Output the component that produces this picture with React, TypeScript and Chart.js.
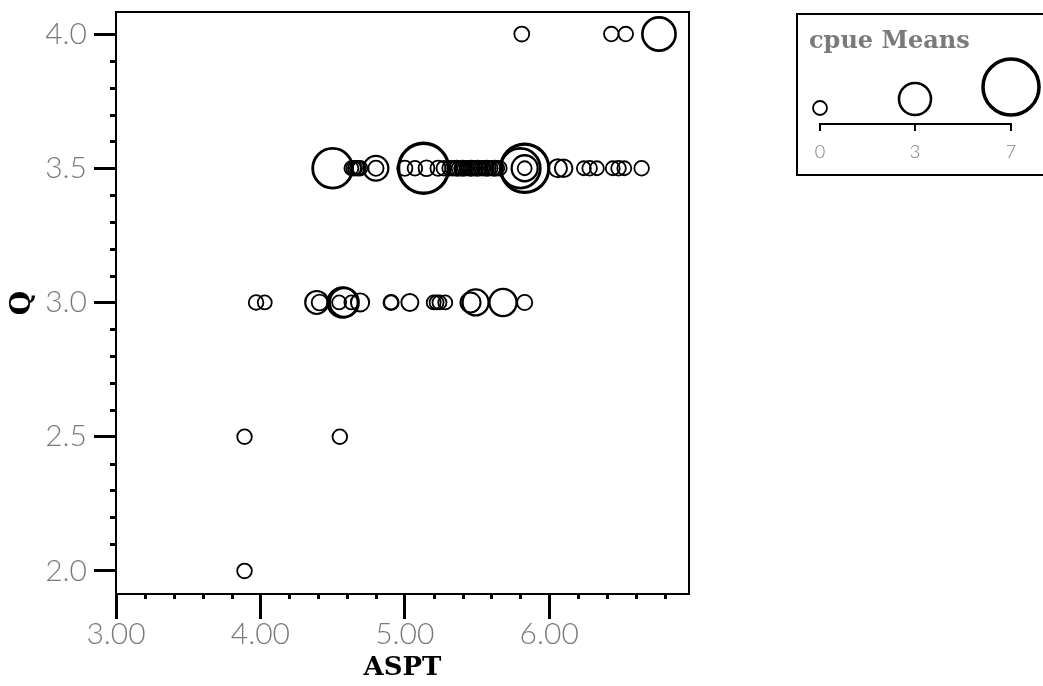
import React, { useEffect, useRef } from 'react';
import { Chart, registerables } from 'chart.js';

Chart.register(...registerables);

// ---- data (ASPT on x, Q on y, bubble size = cpue mean) ----
const qLevels = [4.0, 3.5, 3.0, 2.5, 2.0];

const asptQ40 = [5.81, 6.43, 6.53, 6.76];
const cpueQ40 = [0.15, 0.1, 0.1, 3.2];

const asptQ35 = [
  4.5, 4.63, 4.645, 4.655, 4.67, 4.68, 4.69, 4.8, 4.8, 5.13, 5.0, 5.07, 5.15, 5.23, 5.27, 5.31, 5.33,
  5.345, 5.36, 5.375, 5.39, 5.4, 5.415, 5.43, 5.445, 5.46, 5.475, 5.49, 5.505, 5.52, 5.535, 5.55, 5.565,
  5.58, 5.595, 5.61, 5.625, 5.64, 5.655, 5.8, 5.83, 5.83, 5.83, 6.06, 6.1, 6.24, 6.28, 6.33, 6.44, 6.48,
  6.52, 6.64,
];
const cpueQ35 = [
  4.3, 0, 0.1, 0, 0.1, 0, 0.1, 1.8, 0.2, 6.0, 0.2, 0.1, 0.3, 0.2, 0.1, 0.1, 0.1, 0, 0.2, 0.1, 0, 0.2,
  0.1, 0, 0.1, 0.2, 0, 0.1, 0.2, 0, 0.1, 0, 0.2, 0.1, 0, 0.1, 0.2, 0, 0.1, 4.3, 5.7, 2.0, 0, 0.7, 0.6,
  0, 0.1, 0, 0, 0.1, 0, 0.1,
];

const asptQ30 = [
  3.97, 4.03, 4.39, 4.41, 4.57, 4.58, 4.545, 4.63, 4.69, 4.905, 4.905, 5.035, 5.2, 5.22, 5.24, 5.28,
  5.455, 5.49, 5.68, 5.83,
];
const cpueQ30 = [
  0.1, 0, 1.5, 0.3, 2.7, 2.5, 0, 0, 0.7, 0.2, 0, 0.5, 0, 0, 0, 0, 1.0, 2.0, 2.2, 0.2,
];

const asptQ25 = [3.89, 4.55];
const cpueQ25 = [0.1, 0.1];

const asptQ20 = [3.89];
const cpueQ20 = [0.1];

const asptByLevel = [asptQ40, asptQ35, asptQ30, asptQ25, asptQ20];
const cpueByLevel = [cpueQ40, cpueQ35, cpueQ30, cpueQ25, cpueQ20];

const xMajorTicks = [3, 4, 5, 6];
const yMajorTicks = [2.0, 2.5, 3.0, 3.5, 4.0];
const legendValues = [0, 3, 7];

const radiusFor = (v: number) => 7 + 3 * v;
const widthFor = (v: number) => 1.8 + 0.25 * v;

const GRAY = '#7a7a7a';
const lightFamily = 'Lato, "Open Sans", "Liberation Sans", sans-serif';
const tickFont = { family: lightFamily, size: 30, weight: 300 as any, lineHeight: 1 };
const titleFontFamily = '"DejaVu Serif", "Liberation Serif", serif';

const decorPlugin = {
  id: 'decor',
  beforeDatasetsDraw(chart: any) {
    const { ctx, chartArea } = chart;
    const xs = chart.scales.x;
    const ys = chart.scales.y;
    ctx.save();
    ctx.strokeStyle = '#000';
    ctx.lineWidth = 2;
    ctx.beginPath();
    ctx.moveTo(chartArea.left, chartArea.top);
    ctx.lineTo(chartArea.right, chartArea.top);
    ctx.lineTo(chartArea.right, chartArea.bottom);
    ctx.stroke();
    ctx.fillStyle = '#000';
    // minor ticks y every 0.1
    for (let k = 20; k <= 40; k++) {
      if (k % 5 === 0) continue;
      const y = ys.getPixelForValue(k / 10);
      ctx.fillRect(chartArea.left - 6, Math.round(y) - 1, 5, 3);
    }
    // minor ticks x every 0.2
    for (let k = 15; k <= 34; k++) {
      if (k % 5 === 0) continue;
      const x = xs.getPixelForValue(k / 5);
      if (x > chartArea.right) continue;
      ctx.fillRect(Math.round(x) - 1, chartArea.bottom + 1, 3, 4);
    }
    ctx.restore();
  },
  afterDraw(chart: any) {
    const { ctx } = chart;
    ctx.save();
    // legend box
    ctx.strokeStyle = '#000';
    ctx.lineWidth = 2;
    ctx.strokeRect(797, 14, 260, 161);
    ctx.fillStyle = GRAY;
    ctx.font = `bold 24px ${titleFontFamily}`;
    ctx.textAlign = 'left';
    ctx.textBaseline = 'alphabetic';
    ctx.fillText('cpue Means', 809, 48);
    const lx = [820, 915, 1011];
    const baseY = 115;
    ctx.strokeStyle = '#000';
    legendValues.forEach((v, i) => {
      const r = radiusFor(v);
      ctx.lineWidth = widthFor(v);
      ctx.beginPath();
      ctx.arc(lx[i], baseY - r, r, 0, Math.PI * 2);
      ctx.stroke();
    });
    ctx.lineWidth = 2;
    ctx.beginPath();
    ctx.moveTo(lx[0], 131);
    ctx.lineTo(lx[0], 124);
    ctx.lineTo(lx[2], 124);
    ctx.lineTo(lx[2], 131);
    ctx.moveTo(lx[1], 124);
    ctx.lineTo(lx[1], 131);
    ctx.stroke();
    ctx.fillStyle = GRAY;
    ctx.font = `300 18px ${lightFamily}`;
    ctx.textAlign = 'center';
    ctx.textBaseline = 'middle';
    legendValues.forEach((v, i) => ctx.fillText(String(v), lx[i], 152));
    ctx.restore();
  },
};

export default function App() {
  const ref = useRef<HTMLCanvasElement | null>(null);
  useEffect(() => {
    if (!ref.current) return;
    const points: any[] = [];
    qLevels.forEach((q, i) => {
      asptByLevel[i].forEach((a, j) => {
        const c = cpueByLevel[i][j];
        points.push({ x: a, y: q, r: radiusFor(c), cpue: c });
      });
    });
    const chart = new Chart(ref.current, {
      type: 'bubble',
      data: {
        datasets: [
          {
            data: points,
            backgroundColor: 'rgba(0,0,0,0)',
            borderColor: '#000',
            borderWidth: (c: any) => widthFor(c.raw ? c.raw.cpue : 0),
            clip: false as any,
          },
        ],
      },
      options: {
        responsive: false,
        animation: false,
        devicePixelRatio: 1,
        events: [],
        layout: { autoPadding: false, padding: { left: 0, top: 12, right: 354, bottom: 0 } },
        plugins: { legend: { display: false }, tooltip: { enabled: false } },
        scales: {
          x: {
            type: 'linear',
            position: 'bottom',
            min: 3,
            max: 6.968,
            afterBuildTicks: (s: any) => {
              s.ticks = xMajorTicks.map((v) => ({ value: v }));
            },
            afterFit: (s: any) => {
              s.height = 92;
              s.paddingLeft = 0;
              s.paddingRight = 0;
            },
            ticks: {
              callback: (v: any) => Number(v).toFixed(2),
              font: tickFont,
              color: GRAY,
              padding: 0,
              maxRotation: 0,
              autoSkip: false,
            },
            grid: { drawOnChartArea: false, drawTicks: true, tickLength: 25, tickWidth: 3, tickColor: '#000' },
            border: { display: true, color: '#000', width: 2 },
            title: {
              display: true,
              text: 'ASPT',
              color: '#000',
              font: { family: titleFontFamily, size: 26, weight: 'bold' },
              padding: { top: 0, bottom: 2 },
            },
          },
          y: {
            type: 'linear',
            position: 'left',
            min: 1.914,
            max: 4.082,
            afterBuildTicks: (s: any) => {
              s.ticks = yMajorTicks.map((v) => ({ value: v }));
            },
            afterFit: (s: any) => {
              s.width = 116;
              s.paddingTop = 0;
              s.paddingBottom = 0;
            },
            ticks: {
              callback: (v: any) => Number(v).toFixed(1),
              font: tickFont,
              color: GRAY,
              padding: 7,
              autoSkip: false,
            },
            grid: { drawOnChartArea: false, drawTicks: true, tickLength: 22, tickWidth: 3, tickColor: '#000' },
            border: { display: true, color: '#000', width: 2 },
            title: {
              display: true,
              text: 'Q',
              color: '#000',
              font: { family: titleFontFamily, size: 28, weight: 'bold' },
              padding: { top: 6, bottom: 4 },
            },
          },
        },
      },
      plugins: [decorPlugin],
    } as any);
    return () => chart.destroy();
  }, []);
  return (
    <div style={{ position: 'absolute', left: 0, top: 0, width: 1043, height: 686, background: '#fff' }}>
      <canvas ref={ref} width={1043} height={686} style={{ display: 'block' }} />
    </div>
  );
}
